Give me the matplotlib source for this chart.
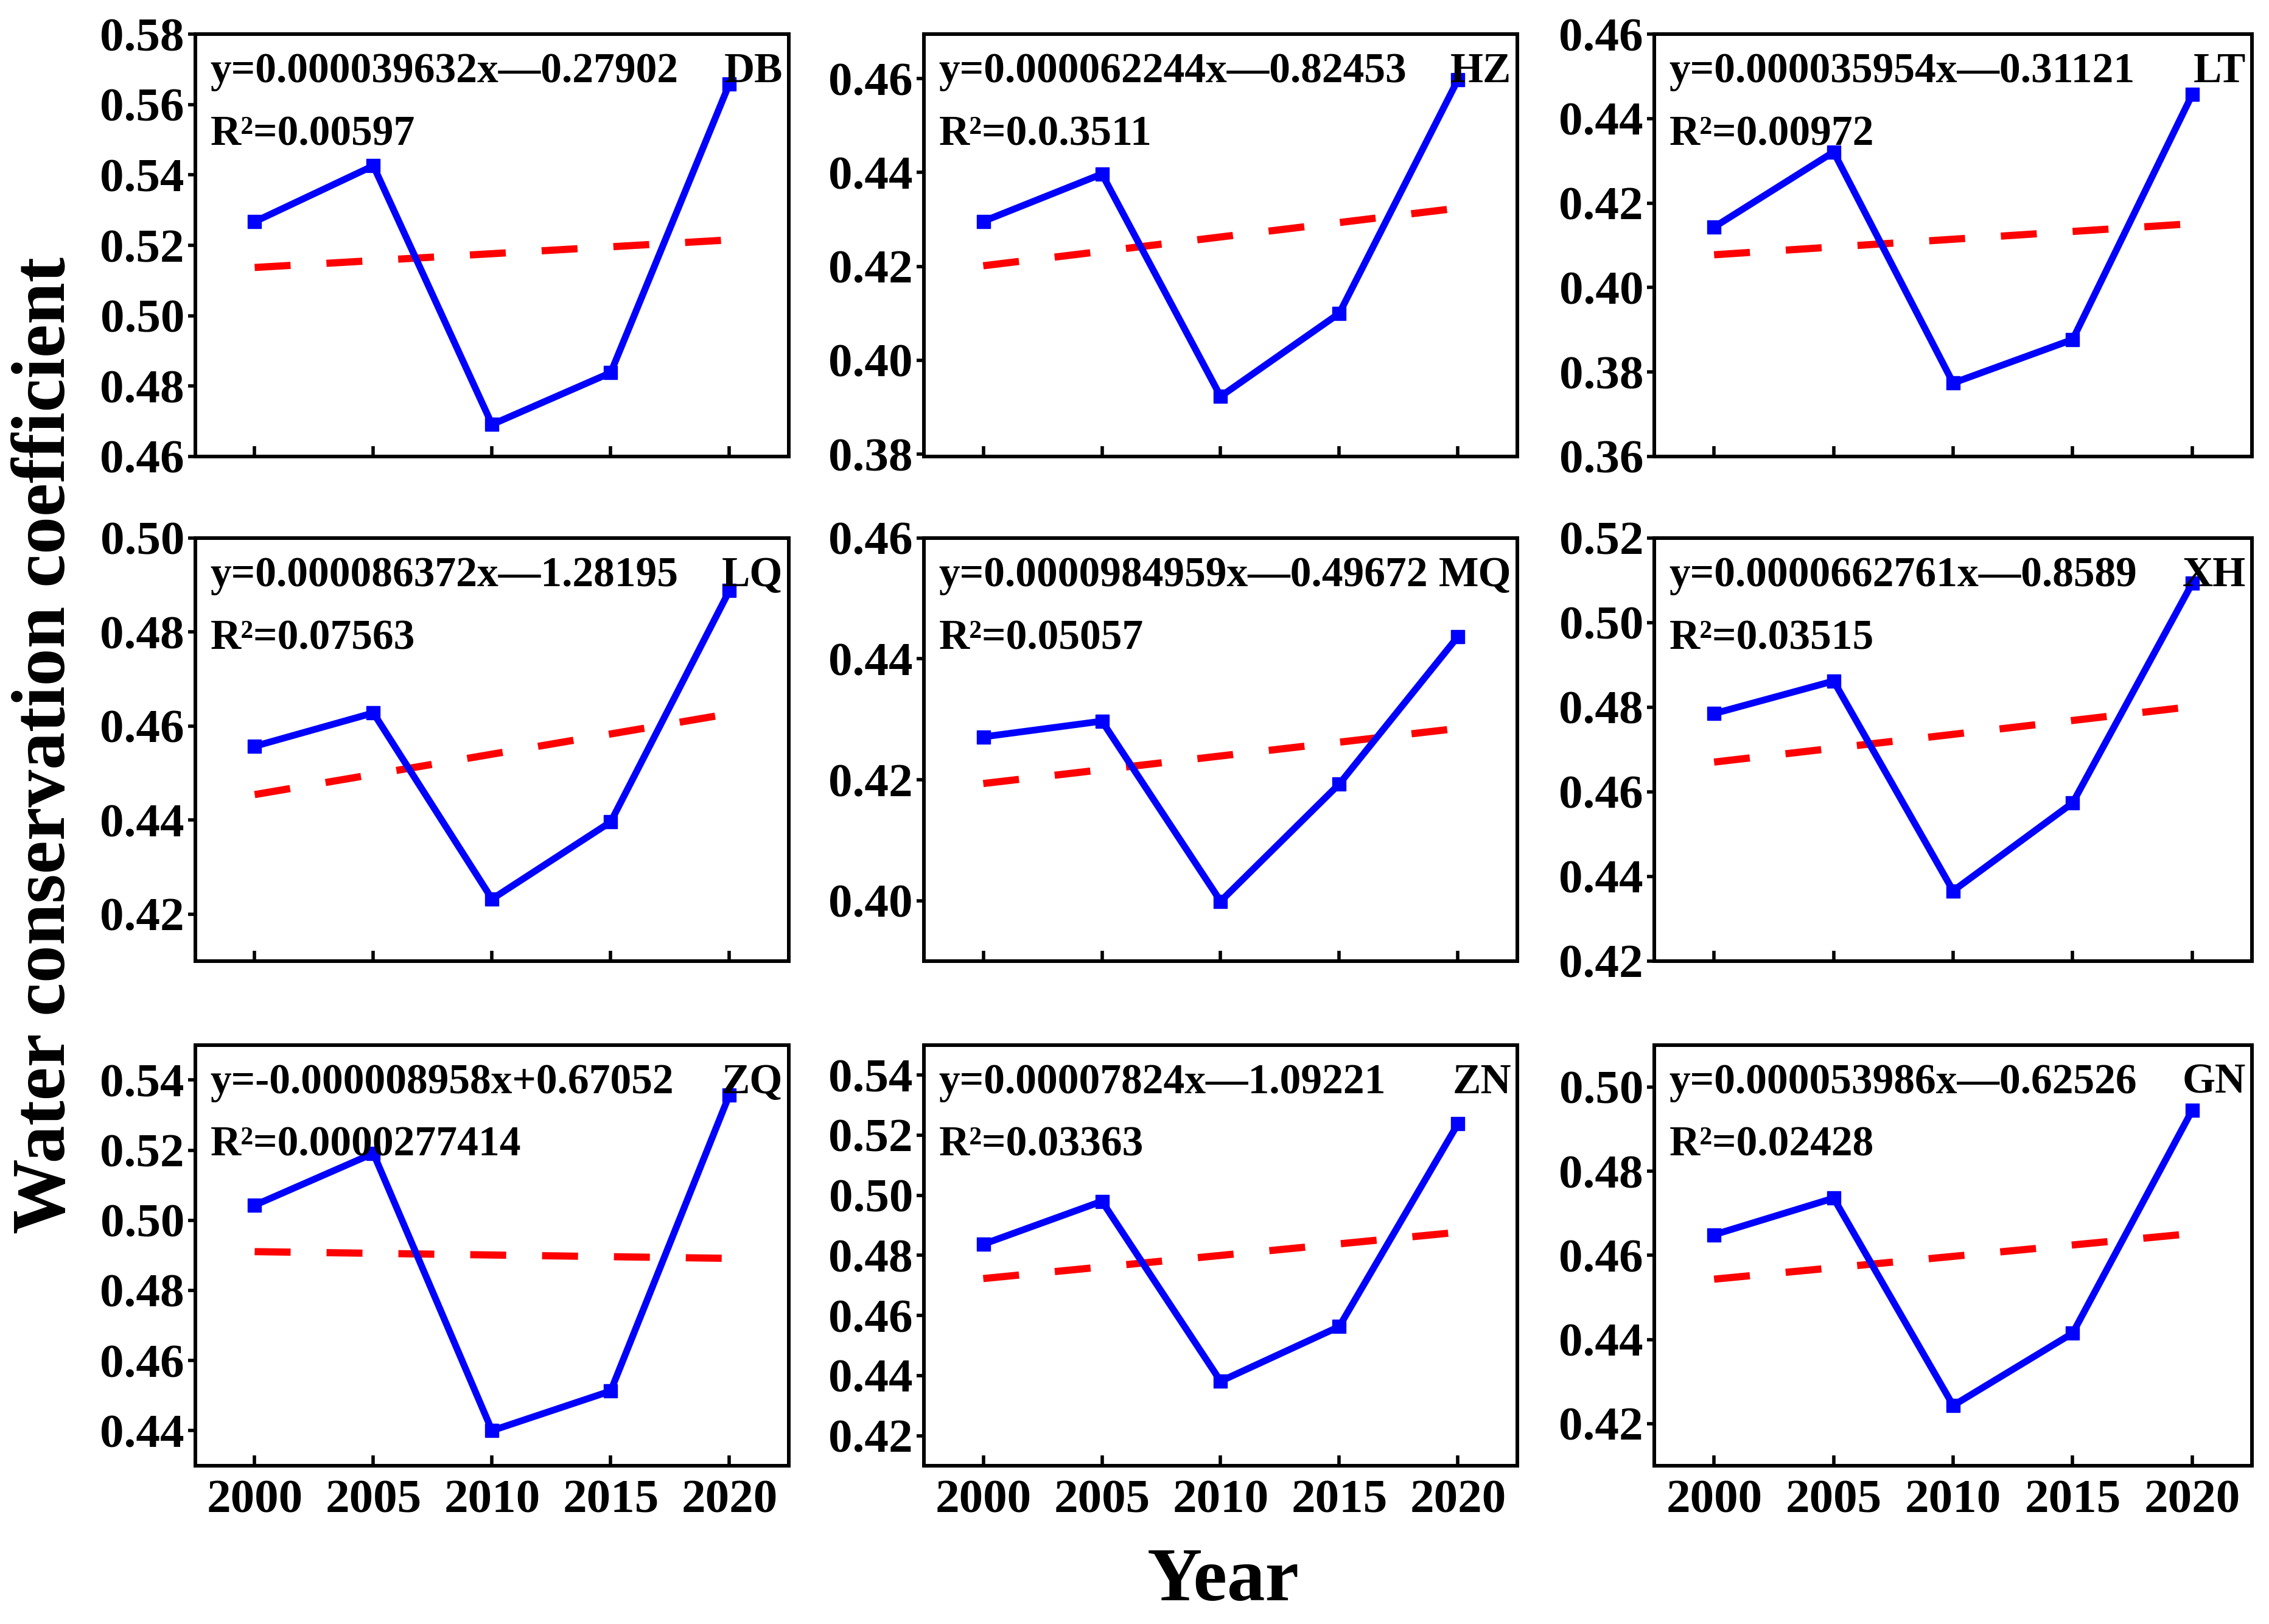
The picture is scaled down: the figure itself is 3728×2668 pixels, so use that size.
import numpy as np
import matplotlib
matplotlib.use("Agg")
from matplotlib import pyplot as plt

plt.rcParams['font.family'] = ['Liberation Serif', 'DejaVu Serif']
plt.rcParams['font.weight'] = 'bold'

years = [2000, 2005, 2010, 2015, 2020]

# water conservation coefficient per region
db = [0.5267, 0.5426, 0.4691, 0.4838, 0.5659]
hz = [0.4296, 0.4397, 0.3923, 0.4100, 0.4598]
lt = [0.4143, 0.4321, 0.3774, 0.3877, 0.4457]
lq = [0.4557, 0.4628, 0.4232, 0.4396, 0.4888]
mq = [0.4271, 0.4297, 0.3999, 0.4193, 0.4437]
xh = [0.4785, 0.4862, 0.4366, 0.4574, 0.5093]
zq = [0.5043, 0.5191, 0.4400, 0.4513, 0.5358]
zn = [0.4837, 0.4980, 0.4381, 0.4563, 0.5238]
gn = [0.4649, 0.4736, 0.4243, 0.4415, 0.4945]

names = ['DB', 'HZ', 'LT', 'LQ', 'MQ', 'XH', 'ZQ', 'ZN', 'GN']
series = [db, hz, lt, lq, mq, xh, zq, zn, gn]

equations = ['y=0.000039632x\u20140.27902',
             'y=0.000062244x\u20140.82453',
             'y=0.000035954x\u20140.31121',
             'y=0.000086372x\u20141.28195',
             'y=0.0000984959x\u20140.49672',
             'y=0.0000662761x\u20140.8589',
             'y=-0.000008958x+0.67052',
             'y=0.00007824x\u20141.09221',
             'y=0.000053986x\u20140.62526']
r2_text = ['R\u00b2=0.00597', 'R\u00b2=0.0.3511', 'R\u00b2=0.00972',
           'R\u00b2=0.07563', 'R\u00b2=0.05057', 'R\u00b2=0.03515',
           'R\u00b2=0.0000277414', 'R\u00b2=0.03363', 'R\u00b2=0.02428']

ylims = [(0.46, 0.58), (0.3795, 0.4695), (0.36, 0.46),
         (0.41, 0.50), (0.39, 0.46), (0.42, 0.52),
         (0.43, 0.55), (0.41, 0.55), (0.41, 0.51)]
yticks = [np.arange(0.46, 0.581, 0.02), np.arange(0.38, 0.461, 0.02), np.arange(0.36, 0.461, 0.02),
          np.arange(0.42, 0.501, 0.02), np.arange(0.40, 0.461, 0.02), np.arange(0.42, 0.521, 0.02),
          np.arange(0.44, 0.541, 0.02), np.arange(0.42, 0.541, 0.02), np.arange(0.42, 0.501, 0.02)]

fig = plt.figure(figsize=(37.28, 26.68), dpi=100)

col_left = [0.0861, 0.4072, 0.7291]
col_w = [0.2615, 0.2615, 0.2634]
row_bottom = [0.7189, 0.4082, 0.0975]
row_h = [0.2601, 0.2605, 0.2590]

for i in range(9):
    r, c = divmod(i, 3)
    ax = fig.add_axes([col_left[c], row_bottom[r], col_w[c], row_h[r]])
    y = series[i]
    ax.plot(years, y, color='#0000ff', lw=8, marker='s', ms=16, zorder=3)

    # linear trend of the data
    k, b = np.polyfit(years, y, 1)
    tx = np.array([years[0], years[-1]])
    ax.plot(tx, k * tx + b, color='#ff0000', lw=8.5, dashes=(5.0, 5.0), zorder=2)

    ax.set_xlim(1997.5, 2022.5)
    ax.set_ylim(*ylims[i])
    ax.set_xticks(years)
    ax.set_yticks(yticks[i])
    ax.yaxis.set_major_formatter(matplotlib.ticker.FormatStrFormatter('%.2f'))
    if r < 2:
        ax.set_xticklabels([])
    ax.tick_params(axis='y', direction='out', length=9, width=4, labelsize=57, pad=4)
    ax.tick_params(axis='x', direction='in', length=12, width=4, labelsize=57, pad=16)
    for lab in ax.get_xticklabels() + ax.get_yticklabels():
        lab.set_fontweight('bold')
    for sp in ax.spines.values():
        sp.set_linewidth(4.3)

    ax.text(0.025, 0.886, equations[i], transform=ax.transAxes, fontsize=50,
            fontweight='bold', ha='left', va='baseline')
    ax.text(0.025, 0.737, r2_text[i], transform=ax.transAxes, fontsize=50,
            fontweight='bold', ha='left', va='baseline')
    ax.text(0.99, 0.886, names[i], transform=ax.transAxes, fontsize=50,
            fontweight='bold', ha='right', va='baseline')

fig.text(0.0204, 0.541, 'Water conservation coefficient', rotation=90, fontsize=89,
         fontweight='bold', ha='center', va='center')
fig.text(0.539, 0.026, 'Year', fontsize=90, fontweight='bold', ha='center', va='center')

fig.savefig('out.png', dpi=100)
